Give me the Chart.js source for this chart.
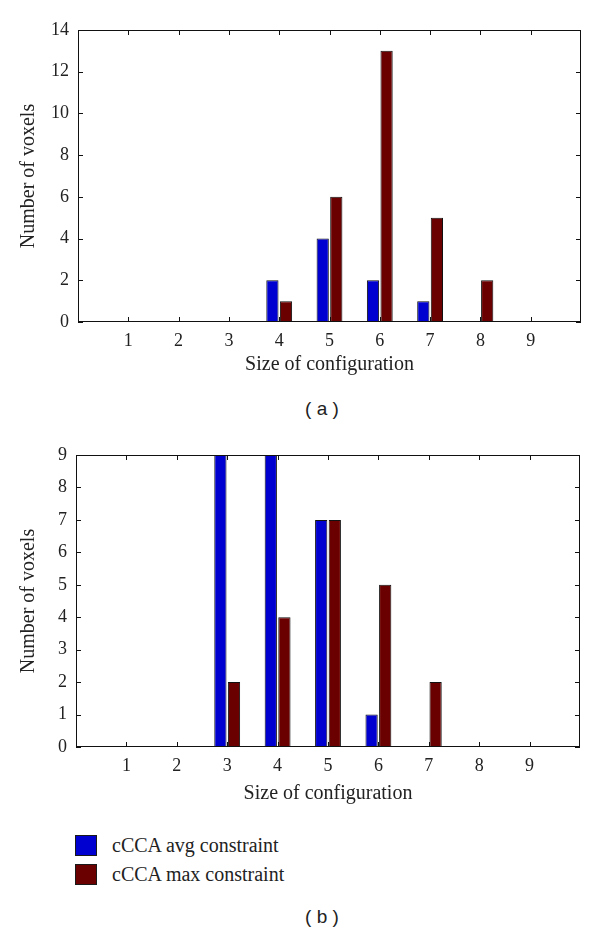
<!DOCTYPE html>
<html>
<head>
<meta charset="utf-8">
<script src="https://cdn.jsdelivr.net/npm/chart.js@4.4.0/dist/chart.umd.min.js"></script>
<style>
  body { margin: 0; background: #fff; width: 600px; height: 932px; position: relative; overflow: hidden; }
  canvas { position: absolute; left: 0; }
  .cap { position: absolute; left: 272px; width: 100px; text-align: center; font: 19px "Liberation Sans", Arial, sans-serif; color: #222; }
  #legend { position: absolute; left: 75px; top: 831px; font: 20px "Liberation Serif", serif; color: #222; }
  .item { height: 29px; display: flex; align-items: center; }
  .box { width: 20px; height: 19px; border: 1px solid #1a1a1a; margin-right: 15px; }
</style>
</head>
<body>
<canvas id="chartA" width="600" height="380" style="top:0px"></canvas>
<div class="cap" style="top:398px">( a )</div>
<canvas id="chartB" width="600" height="380" style="top:425px"></canvas>
<div id="legend"></div>
<div class="cap" style="top:906px">( b )</div>
<script>
// data
const categories = ['1', '2', '3', '4', '5', '6', '7', '8', '9'];
const seriesNames = ['cCCA avg constraint', 'cCCA max constraint'];
const seriesColors = ['#0000d0', '#6b0000'];

// panel (a)
const avgA = [0, 0, 0, 2, 4, 2, 1, 0, 0];
const maxA = [0, 0, 0, 1, 6, 13, 5, 2, 0];
const yTicksA = [0, 2, 4, 6, 8, 10, 12, 14];

// panel (b) - the avg bars at 3 and 4 run past the top of the axis
const avgB = [0, 0, 10, 10, 7, 1, 0, 0, 0];
const maxB = [0, 0, 2, 4, 7, 5, 2, 0, 0];
const yTicksB = [0, 1, 2, 3, 4, 5, 6, 7, 8, 9];

const serif = '"Liberation Serif", "Times New Roman", serif';
const ink = '#222';

// axis runs from 0 to 10, so put an empty slot on each side
const pad = arr => [null, ...arr, null];
const labels = ['', ...categories, ''];

// matlab style box with ticks pointing inward
const boxTicks = {
  id: 'boxTicks',
  afterDatasetsDraw(chart) {
    const { ctx, chartArea: a, scales: { x, y } } = chart;
    ctx.save();
    ctx.strokeStyle = '#111';
    ctx.lineWidth = 1;
    ctx.beginPath();
    for (let i = 1; i <= categories.length; i++) {
      const px = Math.round(x.getPixelForValue(i)) + 0.5;
      ctx.moveTo(px, a.bottom); ctx.lineTo(px, a.bottom - 5);
      ctx.moveTo(px, a.top); ctx.lineTo(px, a.top + 5);
    }
    y.ticks.forEach(t => {
      const py = Math.round(y.getPixelForValue(t.value)) + 0.5;
      ctx.moveTo(a.left, py); ctx.lineTo(a.left + 5, py);
      ctx.moveTo(a.right, py); ctx.lineTo(a.right - 5, py);
    });
    ctx.stroke();
    ctx.strokeRect(Math.round(a.left) + 0.5, Math.round(a.top) + 0.5,
      Math.round(a.right - a.left) - 1, Math.round(a.bottom - a.top) - 1);
    ctx.restore();
  }
};

function makeChart(id, avg, mx, yTicks, yWidth, rightPad, titlePadBottom) {
  const datasets = [avg, mx].map((vals, i) => ({
    label: seriesNames[i],
    data: pad(vals),
    backgroundColor: seriesColors[i],
    borderColor: '#111',
    borderWidth: 1,
    borderSkipped: false,
    categoryPercentage: 0.54,
    barPercentage: 0.9,
    clip: 0
  }));
  return new Chart(document.getElementById(id), {
    type: 'bar',
    data: { labels, datasets },
    options: {
      responsive: false,
      animation: false,
      devicePixelRatio: 1,
      layout: { padding: { top: 30, right: rightPad, left: 0, bottom: 0 } },
      plugins: { legend: { display: false }, tooltip: { enabled: false } },
      scales: {
        x: {
          offset: false,
          grid: { display: false, drawTicks: false, offset: false },
          border: { display: false },
          ticks: { autoSkip: false, maxRotation: 0, padding: 8, color: ink, font: { family: serif, size: 18 } },
          title: { display: true, text: 'Size of configuration', color: ink,
            font: { family: serif, size: 20, lineHeight: 1 }, padding: { top: 0, bottom: titlePadBottom } },
          afterFit(s) { s.height = 58; }
        },
        y: {
          min: yTicks[0],
          max: yTicks[yTicks.length - 1],
          grid: { display: false, drawTicks: false },
          border: { display: false },
          ticks: { stepSize: yTicks[1] - yTicks[0], padding: 9, color: ink, font: { family: serif, size: 18 } },
          title: { display: true, text: 'Number of voxels', color: ink,
            font: { family: serif, size: 20, lineHeight: 1 }, padding: { top: 19, bottom: 0 } },
          afterFit(s) { s.width = yWidth; }
        }
      }
    },
    plugins: [boxTicks]
  });
}

makeChart('chartA', avgA, maxA, yTicksA, 78, 19, 5);
const chartB = makeChart('chartB', avgB, maxB, yTicksB, 76, 20, 1);

// legend below panel (b)
const legend = document.getElementById('legend');
chartB.data.datasets.forEach(ds => {
  const row = document.createElement('div');
  row.className = 'item';
  const box = document.createElement('span');
  box.className = 'box';
  box.style.background = ds.backgroundColor;
  row.appendChild(box);
  row.appendChild(document.createTextNode(ds.label));
  legend.appendChild(row);
});
</script>
</body>
</html>
